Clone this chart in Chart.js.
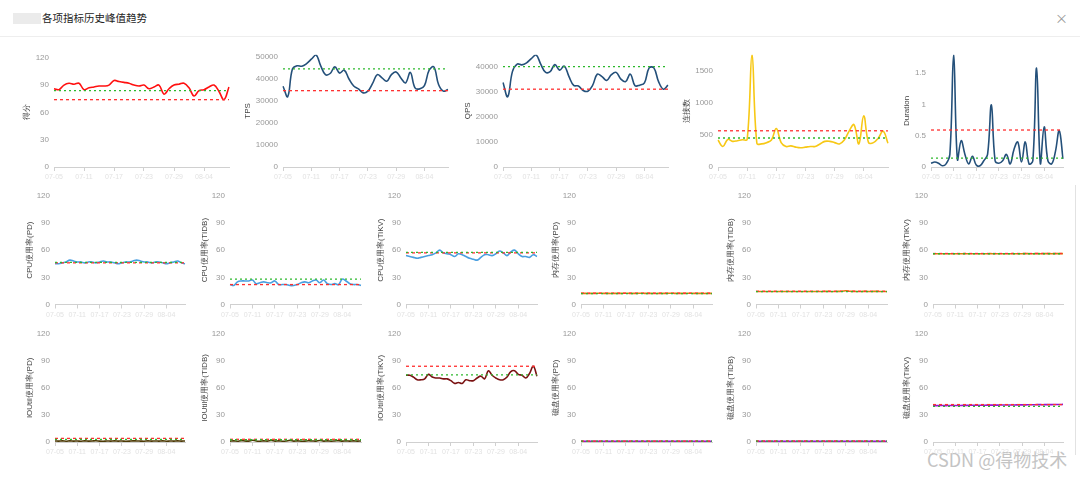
<!DOCTYPE html>
<html>
<head>
<meta charset="utf-8">
<script src="https://cdn.jsdelivr.net/npm/chart.js@4/dist/chart.umd.min.js"></script>
<style>
  body { margin: 0; width: 1080px; height: 479px; background: #fff; position: relative; overflow: hidden;
         font-family: "Noto Sans CJK SC", "Noto Sans", sans-serif; }
  .head-mask { position: absolute; left: 13px; top: 13px; width: 28px; height: 11px; background: #ebebeb; }
  .head { position: absolute; left: 42px; top: 10px; font-size: 10.5px; color: #222; }
  .close { position: absolute; left: 1055px; top: 8px; font-size: 13px; color: #999; }
  .divider { position: absolute; left: 0; top: 36px; width: 1080px; height: 1px; background: #eee; }
  .edge { position: absolute; left: 1075px; top: 185px; width: 1px; height: 270px; background: #e2e2e2; }
  .box { position: absolute; }
  .mark { position: absolute; left: 927px; top: 446px; font-size: 18px; color: #c4c4c4; }
</style>
</head>
<body>
<div class="head-mask"></div>
<div class="head">各项指标历史峰值趋势</div>
<div class="close">×</div>
<div class="divider"></div>
<div class="edge"></div>
<div class="mark">CSDN @得物技术</div>

<script>
'use strict'

let dates = ['07-05', '07-06', '07-07', '07-08', '07-09', '07-10', '07-11', '07-12', '07-13', '07-14',
  '07-15', '07-16', '07-17', '07-18', '07-19', '07-20', '07-21', '07-22', '07-23', '07-24',
  '07-25', '07-26', '07-27', '07-28', '07-29', '07-30', '07-31', '08-01', '08-02', '08-03',
  '08-04', '08-05', '08-06', '08-07', '08-08', '08-09'];

// tick labels on the value axes
let percentTicks = [0, 30, 60, 90, 120];
let tpsTicks = [0, 10000, 20000, 30000, 40000, 50000];
let qpsTicks = [0, 10000, 20000, 30000, 40000];
let connTicks = [0, 500, 1000, 1500];
let durationTicks = [0, 0.5, 1, 1.5];

// limits are [red line, green line]
let scoreData = [86, 85, 90, 92, 91, 92, 85, 87, 88, 89, 89, 90, 95, 94, 93, 92, 90, 89,
  90, 86, 88, 90, 80, 86, 90, 91, 92, 87, 78, 84, 85, 88, 90, 83, 74, 88];
let scoreLimits = [74, 84];

let tpsData = [36700, 32000, 44500, 46000, 45800, 47000, 49000, 51000, 46000, 42000, 42500, 45500,
  42700, 44000, 40000, 36800, 35500, 33700, 34500, 38000, 42000, 40500, 39000, 42000,
  43200, 40500, 38200, 43000, 36000, 35500, 37000, 44000, 45500, 37500, 34500, 35200];
let tpsLimits = [34700, 44600];

let qpsData = [33700, 28000, 38000, 41000, 40700, 41500, 43200, 44700, 41000, 37800, 38000, 40800,
  38600, 40200, 36000, 32500, 32300, 30500, 30200, 32500, 37000, 36000, 34500, 36800,
  37700, 35000, 34000, 37000, 32400, 32600, 33500, 39500, 39500, 34000, 31000, 32600];
let qpsLimits = [31000, 40000];

let connData = [420, 320, 430, 400, 410, 425, 430, 1750, 370, 360, 380, 420, 600, 380, 320, 330,
  310, 300, 310, 320, 320, 360, 400, 400, 380, 360, 420, 560, 660, 360, 800, 380, 380, 450, 560, 370];
let connLimits = [565, 452];

let durationData = [0.06, 0.08, 0.06, 0.02, 0.05, 0.2, 1.79, 0.12, 0.42, 0.2, 0.05, 0.17, 0.03, 0.02,
  0.1, 0.2, 0.99, 0.1, 0.06, 0.1, 0.2, 0.05, 0.28, 0.4, 0.08, 0.4, 0.05, 0.1, 1.58, 0.05,
  0.64, 0.1, 0.05, 0.25, 0.58, 0.13];
let durationLimits = [0.59, 0.14];

let cpuPd = [45, 45, 46, 47, 49, 48, 47, 47, 46, 47, 47, 46, 47, 48, 47, 47, 46, 45,
  46, 47, 47, 48, 49, 48, 47, 47, 46, 47, 47, 46, 45, 46, 47, 48, 46, 45];
let cpuPdLimits = [46, 46.5];

let cpuTidb = [22, 21, 25, 26, 26, 26, 27, 23, 24, 25, 24, 24, 26, 22, 22, 22, 21, 21,
  22, 24, 25, 24, 26, 27, 24, 27, 23, 22, 23, 22, 28, 26, 23, 22, 22, 21];
let cpuTidbLimits = [22, 28];

let cpuTikv = [54, 53, 52, 51, 52, 53, 54, 55, 57, 60, 57, 56, 55, 53, 56, 55, 53, 51,
  50, 49, 52, 55, 55, 54, 56, 59, 57, 54, 58, 60, 56, 53, 53, 52, 55, 53];
let cpuTikvLimits = [57, 57.5];

let memPd = [12.3, 12.3, 12.2, 12.3, 12.3, 12.4, 12.3, 12.3, 12.2, 12.3, 12.3, 12.3, 12.4, 12.3,
  12.3, 12.3, 12.4, 12.3, 12.3, 12.3, 12.2, 12.3, 12.3, 12.3, 12.4, 12.3, 12.3, 12.3, 12.3,
  12.4, 12.3, 12.3, 12.3, 12.2, 12.3, 12.3];
let memPdLimits = [12.5, 12.1];

let memTidb = [14.3, 14.4, 14.3, 14.3, 14.4, 14.3, 14.3, 14.4, 14.3, 14.3, 14.4, 14.3, 14.3, 14.4,
  14.3, 14.3, 14.4, 14.3, 14.4, 14.5, 14.4, 14.4, 14.5, 14.6, 15.2, 14.6, 14.5, 14.4, 14.4,
  14.5, 14.4, 14.4, 14.5, 14.4, 14.4, 14.4];
let memTidbLimits = [14.6, 14.2];

let memTikv = [56, 56, 56.1, 56, 56, 56.1, 56, 56, 56.1, 56.1, 56, 56, 56.1, 56, 56, 56.1, 56.1, 56,
  56, 56.1, 56, 56.1, 56.1, 56, 56.1, 56.2, 56.1, 56.1, 56.2, 56.1, 56.2, 56.2, 56.1, 56.2, 56.2, 56.2];
let memTikvLimits = [56.3, 56];

let ioPd = [1.1, 1.0, 1.2, 0.9, 1.3, 1.0, 1.1, 0.9, 1.2, 1.0, 1.1, 1.4, 1.0, 0.9, 1.1, 1.0, 1.2, 1.0,
  1.1, 0.9, 1.0, 1.3, 1.1, 1.0, 0.9, 1.2, 1.0, 1.1, 1.0, 1.2, 0.9, 1.1, 1.0, 1.2, 1.0, 1.1];
let ioPdLimits = [4, 3];

let ioTidb = [1.0, 1.2, 0.9, 1.5, 1.1, 1.0, 2.0, 1.1, 0.9, 1.3, 1.0, 1.6, 1.0, 1.2, 0.9, 1.1, 1.8, 1.0,
  1.2, 0.9, 1.0, 1.4, 1.1, 1.0, 1.7, 1.0, 1.2, 0.9, 1.1, 1.5, 1.0, 1.2, 1.0, 1.3, 1.0, 1.1];
let ioTidbLimits = [3, 2.5];

let ioTikv = [74, 74, 72, 69, 69, 70, 75, 72, 71, 71, 70, 70, 68, 65, 66, 65, 69, 68,
  68, 71, 73, 70, 79, 74, 71, 69, 69, 72, 78, 79, 75, 74, 71, 76, 84, 73];
let ioTikvLimits = [84, 74.5];

let diskPd = [0.8, 0.8, 0.8, 0.8, 0.8, 0.8, 0.8, 0.8, 0.8, 0.8, 0.8, 0.8, 0.8, 0.8, 0.8, 0.8, 0.8, 0.8,
  0.8, 0.8, 0.8, 0.8, 0.8, 0.8, 0.8, 0.8, 0.8, 0.8, 0.8, 0.8, 0.8, 0.8, 0.8, 0.8, 0.8, 0.8];
let diskPdLimits = [1.0, 0.9];

let diskTidb = [0.9, 0.9, 0.9, 0.9, 0.9, 0.9, 0.9, 0.9, 0.9, 0.9, 0.9, 0.9, 0.9, 0.9, 0.9, 0.9, 0.9, 0.9,
  0.9, 0.9, 0.9, 0.9, 0.9, 0.9, 0.9, 0.9, 0.9, 0.9, 0.9, 0.9, 0.9, 0.9, 0.9, 0.9, 0.9, 0.9];
let diskTidbLimits = [1.1, 1.0];

let diskTikv = [40.3, 40.3, 40.4, 40.4, 40.4, 40.5, 40.5, 40.5, 40.6, 40.6, 40.7, 40.7, 40.7, 40.8,
  40.8, 40.9, 40.9, 40.9, 41.0, 41.0, 41.0, 41.1, 41.1, 41.2, 41.2, 41.2, 41.3, 41.3, 41.4, 41.4,
  41.4, 41.5, 41.5, 41.6, 41.6, 41.7];
let diskTikvLimits = [41.5, 39.5];


// layout: [titleX, plotLeft, plotRight, plotTop, plotBottom]
let row1 = [53, 167];
let row2 = [193.5, 304];
let row3 = [332, 442];
let cols = [[30, 55, 185], [205, 230, 361], [381, 406, 537], [556, 581, 712], [731, 756, 887], [907, 933, 1063]];

let panels = [
  { name: '得分', data: scoreData, limits: scoreLimits, ticks: percentTicks, max: 120, color: '#ff1010', pos: [27, 54, 229, 56, 167] },
  { name: 'TPS', data: tpsData, limits: tpsLimits, ticks: tpsTicks, color: '#24507a', pos: [248, 283, 448, row1[0], row1[1]] },
  { name: 'QPS', data: qpsData, limits: qpsLimits, ticks: qpsTicks, color: '#24507a', pos: [468, 503, 668, row1[0], row1[1]] },
  { name: '连接数', data: connData, limits: connLimits, ticks: connTicks, color: '#f7c815', pos: [687, 718, 888, row1[0], row1[1]] },
  { name: 'Duration', data: durationData, limits: durationLimits, ticks: durationTicks, color: '#24507a', pos: [907, 931, 1063, row1[0], row1[1]] },

  { name: 'CPU使用率(PD)', data: cpuPd, limits: cpuPdLimits, color: '#4a9fe0', col: 0, row: row2 },
  { name: 'CPU使用率(TIDB)', data: cpuTidb, limits: cpuTidbLimits, color: '#4a9fe0', col: 1, row: row2 },
  { name: 'CPU使用率(TiKV)', data: cpuTikv, limits: cpuTikvLimits, color: '#4a9fe0', col: 2, row: row2 },
  { name: '内存使用率(PD)', data: memPd, limits: memPdLimits, color: '#e07a10', col: 3, row: row2 },
  { name: '内存使用率(TIDB)', data: memTidb, limits: memTidbLimits, color: '#e07a10', col: 4, row: row2 },
  { name: '内存使用率(TiKV)', data: memTikv, limits: memTikvLimits, color: '#e07a10', col: 5, row: row2 },

  { name: 'IOUtil使用率(PD)', data: ioPd, limits: ioPdLimits, color: '#4d3a06', col: 0, row: row3 },
  { name: 'IOUtil使用率(TIDB)', data: ioTidb, limits: ioTidbLimits, color: '#4d3a06', col: 1, row: row3 },
  { name: 'IOUtil使用率(TiKV)', data: ioTikv, limits: ioTikvLimits, color: '#7a1212', col: 2, row: row3 },
  { name: '磁盘使用率(PD)', data: diskPd, limits: diskPdLimits, color: '#9a12d0', col: 3, row: row3 },
  { name: '磁盘使用率(TIDB)', data: diskTidb, limits: diskTidbLimits, color: '#9a12d0', col: 4, row: row3 },
  { name: '磁盘使用率(TiKV)', data: diskTikv, limits: diskTikvLimits, color: '#9a12d0', col: 5, row: row3 }
];


// dashed red / green reference lines
const limitLines = {
  id: 'limitLines',
  afterDatasetsDraw(chart, args, opts) {
    let ctx = chart.ctx;
    let area = chart.chartArea;
    let y = chart.scales.y;
    let styles = [['#ff3030', [3, 3]], ['#2cb82c', [2, 3]]];
    ctx.save();
    ctx.lineWidth = 1.3;
    for (let i = 0; i < opts.values.length; i++) {
      let py = y.getPixelForValue(opts.values[i]);
      ctx.strokeStyle = styles[i][0];
      ctx.setLineDash(styles[i][1]);
      ctx.beginPath();
      ctx.moveTo(area.left, py);
      ctx.lineTo(area.right, py);
      ctx.stroke();
    }
    ctx.restore();
  }
};


function drawPanel(p) {
  let titleX, plotLeft, plotRight, plotTop, plotBottom;
  if (p.pos) {
    [titleX, plotLeft, plotRight, plotTop, plotBottom] = p.pos;
  } else {
    [titleX, plotLeft, plotRight] = cols[p.col];
    [plotTop, plotBottom] = p.row;
    p.ticks = percentTicks;
    p.max = 120;
  }
  // the top rows without a fixed max stop at the highest value
  let yMax = p.max || Math.max(...p.data);

  let left = titleX - 5;
  let top = plotTop - 8;
  let box = document.createElement('div');
  box.className = 'box';
  box.style.left = left + 'px';
  box.style.top = top + 'px';
  box.style.width = (plotRight + 4 - left) + 'px';
  box.style.height = (plotBottom + 20 - top) + 'px';
  let canvas = document.createElement('canvas');
  box.appendChild(canvas);
  document.body.appendChild(box);

  new Chart(canvas.getContext('2d'), {
    type: 'line',
    data: {
      labels: dates,
      datasets: [{
        data: p.data,
        borderColor: p.color,
        borderWidth: 1.6,
        pointRadius: 0,
        tension: 0.4,
        fill: false
      }]
    },
    plugins: [limitLines],
    options: {
      responsive: true,
      maintainAspectRatio: false,
      animation: false,
      layout: { padding: { top: 8, right: 4, left: 0, bottom: 0 } },
      plugins: {
        legend: { display: false },
        tooltip: { enabled: false },
        limitLines: { values: p.limits }
      },
      scales: {
        x: {
          afterFit: s => { s.height = 20; },
          grid: { drawOnChartArea: false, drawTicks: true, tickLength: 4, color: '#d0d0d0' },
          border: { color: '#d0d0d0' },
          ticks: {
            autoSkip: false, maxRotation: 0, minRotation: 0, padding: 2,
            color: '#e2e2e2', font: { size: 7 },
            callback: (v, i) => (i % 6 === 0 && i < 36 ? dates[i] : null)
          }
        },
        y: {
          min: 0,
          max: yMax,
          afterFit: s => { s.width = plotLeft - left; },
          afterBuildTicks: s => { s.ticks = p.ticks.map(v => ({ value: v })); },
          grid: { display: false, drawTicks: false },
          border: { display: false },
          ticks: {
            padding: 5,
            color: '#999', font: { size: 8 },
            callback: v => String(v)
          },
          title: { display: true, text: p.name, color: '#444', font: { size: 8 }, padding: 0 }
        }
      }
    }
  });
}

for (let i = 0; i < panels.length; i++) {
  drawPanel(panels[i]);
}
</script>
</body>
</html>
